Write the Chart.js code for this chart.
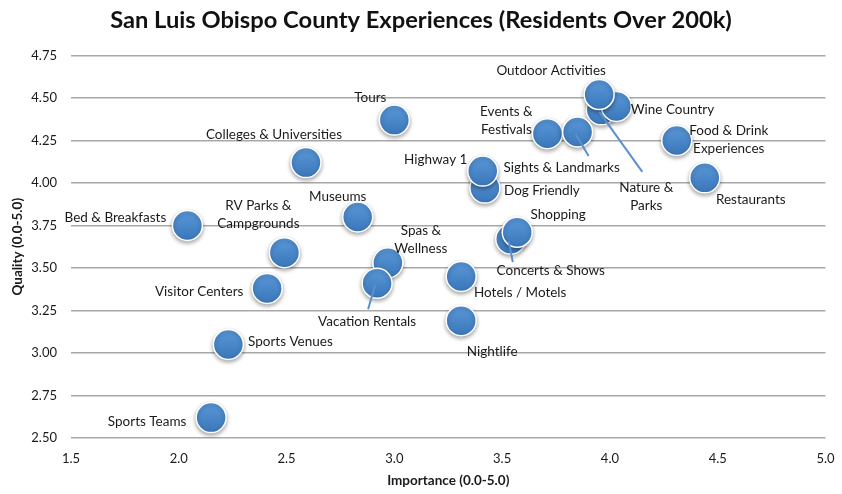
<!DOCTYPE html>
<html>
<head>
<meta charset="utf-8">
<script src="https://cdn.jsdelivr.net/npm/chart.js@4.4.0/dist/chart.umd.min.js"></script>
<style>
  html, body { margin: 0; padding: 0; background: #fff; }
</style>
</head>
<body>
<canvas id="chart" width="842" height="494"></canvas>
<script>
// Experience categories with their importance (x) and quality (y) scores.
// Order matters: later entries are drawn on top.
const experiences = [
  'Bed & Breakfasts', 'Colleges & Universities', 'Tours', 'Museums',
  'RV Parks & Campgrounds', 'Visitor Centers', 'Spas & Wellness', 'Vacation Rentals',
  'Hotels / Motels', 'Nightlife', 'Sports Venues', 'Sports Teams',
  'Nature & Parks', 'Wine Country', 'Outdoor Activities', 'Events & Festivals',
  'Sights & Landmarks', 'Food & Drink Experiences', 'Restaurants', 'Dog Friendly',
  'Highway 1', 'Concerts & Shows', 'Shopping'
];
const importance = [
  2.04, 2.59, 3.00, 2.83,
  2.49, 2.41, 2.97, 2.92,
  3.31, 3.31, 2.23, 2.15,
  3.96, 4.03, 3.95, 3.71,
  3.85, 4.31, 4.44, 3.42,
  3.41, 3.54, 3.57
];
const quality = [
  3.75, 4.12, 4.37, 3.80,
  3.59, 3.38, 3.53, 3.41,
  3.45, 3.19, 3.05, 2.62,
  4.43, 4.45, 4.52, 4.29,
  4.30, 4.25, 4.03, 3.97,
  4.07, 3.67, 3.71
];
const xTickLabels = ['1.5', '2.0', '2.5', '3.0', '3.5', '4.0', '4.5', '5.0'];
const yTickLabels = ['2.50', '2.75', '3.00', '3.25', '3.50', '3.75', '4.00', '4.25', '4.50', '4.75'];

// label placement: offset of the text centre from the bubble (px), optional wrap and leader line
const placement = {
  'Bed & Breakfasts': { dx: -72, dy: -8 },
  'Colleges & Universities': { dx: -32, dy: -28 },
  'Tours': { dx: -24, dy: -22 },
  'Museums': { dx: -20, dy: -20 },
  'RV Parks & Campgrounds': { dx: -26, dy: -38, wrap: 3 },
  'Visitor Centers': { dx: -68, dy: 3 },
  'Spas & Wellness': { dx: 33, dy: -23, wrap: 2 },
  'Vacation Rentals': { dx: -10, dy: 38, line: [-9, 26] },
  'Hotels / Motels': { dx: 59, dy: 16 },
  'Nightlife': { dx: 31, dy: 31 },
  'Sports Venues': { dx: 62, dy: -3 },
  'Sports Teams': { dx: -64, dy: 4 },
  'Nature & Parks': { dx: 45, dy: 87, wrap: 2, line: [41, 62] },
  'Wine Country': { dx: 56, dy: 3 },
  'Outdoor Activities': { dx: -48, dy: -24 },
  'Events & Festivals': { dx: -41, dy: -13, wrap: 2 },
  'Sights & Landmarks': { dx: -16, dy: 36, line: [11, 24] },
  'Food & Drink Experiences': { dx: 52, dy: -1, wrap: 3 },
  'Restaurants': { dx: 46, dy: 22 },
  'Dog Friendly': { dx: 57, dy: 3 },
  'Highway 1': { dx: -47, dy: -11 },
  'Concerts & Shows': { dx: 40, dy: 32, line: [2, 23] },
  'Shopping': { dx: 41, dy: -18 }
};

const FONT = 'Lato';

const points = experiences.map((name, i) => ({ x: importance[i], y: quality[i] }));

function bubbleFill(c) {
  const chart = c.chart;
  if (c.type !== 'data' || !chart.scales.x || !chart.scales.y) return '#4a86c8';
  const px = chart.scales.x.getPixelForValue(c.raw.x);
  const py = chart.scales.y.getPixelForValue(c.raw.y);
  if (!isFinite(px) || !isFinite(py)) return '#4a86c8';
  const g = chart.ctx.createLinearGradient(px, py - 15, px, py + 15);
  g.addColorStop(0, '#5a99da');
  g.addColorStop(1, '#3a76b9');
  return g;
}

// shadow under the bubbles
const shadowPlugin = {
  id: 'bubbleShadow',
  beforeDatasetsDraw(chart) {
    const ctx = chart.ctx;
    ctx.save();
    ctx.shadowColor = 'rgba(0,0,0,0.35)';
    ctx.shadowBlur = 4;
    ctx.shadowOffsetY = 2;
  },
  afterDatasetsDraw(chart) {
    chart.ctx.restore();
  }
};

// leader lines + text labels for each bubble
const labelPlugin = {
  id: 'experienceLabels',
  afterDatasetsDraw(chart) {
    const ctx = chart.ctx;
    const meta = chart.getDatasetMeta(0);
    ctx.save();
    ctx.strokeStyle = '#5b90cf';
    ctx.lineWidth = 2;
    meta.data.forEach((pt, i) => {
      const p = placement[experiences[i]];
      if (!p || !p.line) return;
      ctx.beginPath();
      ctx.moveTo(pt.x - 2, pt.y + 2);
      ctx.lineTo(pt.x + p.line[0], pt.y + p.line[1]);
      ctx.stroke();
    });
    ctx.font = '13.5px ' + FONT;
    ctx.fillStyle = '#1a1a1a';
    ctx.textAlign = 'center';
    ctx.textBaseline = 'middle';
    meta.data.forEach((pt, i) => {
      const name = experiences[i];
      const p = placement[name] || { dx: 0, dy: -20 };
      let lines = [name];
      if (p.wrap) {
        const words = name.split(' ');
        lines = [words.slice(0, p.wrap).join(' '), words.slice(p.wrap).join(' ')];
      }
      const lh = 17.5;
      const y0 = pt.y + p.dy - (lines.length - 1) * lh / 2;
      lines.forEach((t, k) => ctx.fillText(t, pt.x + p.dx, y0 + k * lh));
    });
    ctx.restore();
  }
};

const chart = new Chart(document.getElementById('chart'), {
  type: 'scatter',
  data: {
    datasets: [{
      data: points,
      pointRadius: 15,
      pointHoverRadius: 15,
      backgroundColor: bubbleFill,
      borderColor: '#ffffff',
      borderWidth: 1.5
    }]
  },
  plugins: [shadowPlugin, labelPlugin],
  options: {
    responsive: false,
    animation: false,
    layout: { padding: 0 },
    plugins: {
      legend: { display: false },
      tooltip: { enabled: false },
      title: {
        display: true,
        text: 'San Luis Obispo County Experiences (Residents Over 200k)',
        color: '#111',
        font: { family: FONT, size: 23.7, weight: 'bold' },
        padding: { top: 6, bottom: 21 }
      }
    },
    scales: {
      x: {
        type: 'linear',
        min: 1.5,
        max: 5.0,
        afterBuildTicks(scale) {
          scale.ticks = xTickLabels.map(v => ({ value: parseFloat(v) }));
        },
        afterFit(scale) {
          scale.height = 56;
          scale.paddingLeft = 0;
          scale.paddingRight = 15;
        },
        grid: { display: false, drawTicks: false },
        border: { display: false },
        ticks: {
          color: '#1a1a1a',
          padding: 13,
          font: { family: FONT, size: 13 },
          callback: (v) => xTickLabels.find(t => parseFloat(t) === v) || ''
        },
        title: {
          display: true,
          text: 'Importance (0.0-5.0)',
          color: '#1a1a1a',
          font: { family: FONT, size: 13.5, weight: 'bold' },
          padding: { top: 0, bottom: 5 }
        }
      },
      y: {
        type: 'linear',
        min: 2.5,
        max: 4.75,
        afterBuildTicks(scale) {
          scale.ticks = yTickLabels.map(v => ({ value: parseFloat(v) }));
        },
        afterFit(scale) { scale.width = 71; },
        grid: { color: '#a8a8a8', lineWidth: 1.5, drawTicks: false },
        border: { display: false },
        ticks: {
          color: '#1a1a1a',
          padding: 14,
          font: { family: FONT, size: 13 },
          callback: (v) => yTickLabels.find(t => parseFloat(t) === v) || ''
        },
        title: {
          display: true,
          text: 'Quality (0.0-5.0)',
          color: '#1a1a1a',
          font: { family: FONT, size: 13.5, weight: 'bold' },
          padding: { top: 10, bottom: 0 }
        }
      }
    }
  }
});
chart.update();
</script>
</body>
</html>
